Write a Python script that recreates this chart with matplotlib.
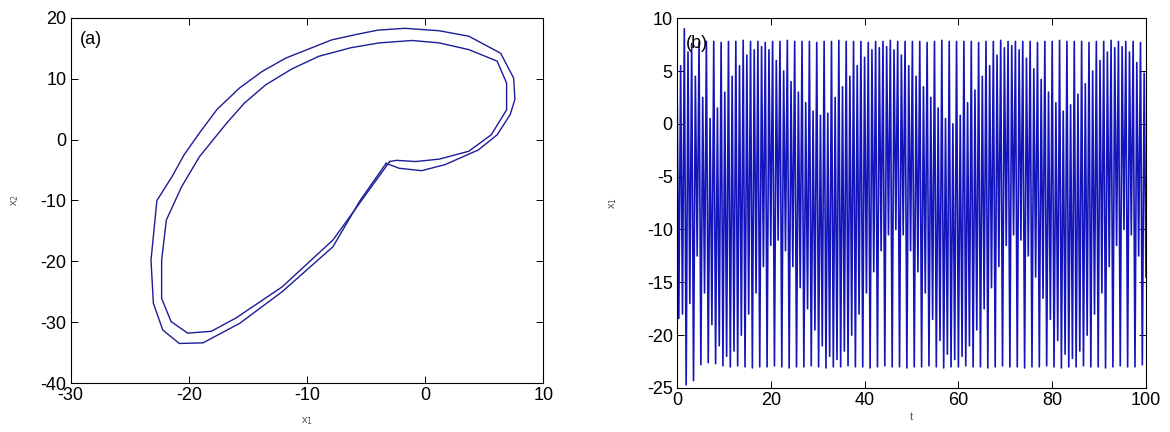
import numpy as np
import matplotlib
matplotlib.use("Agg")
from matplotlib import pyplot as plt

plt.rcParams['font.family'] = ['Liberation Sans', 'DejaVu Sans']
plt.rcParams['axes.unicode_minus'] = False

# (a) phase portrait: the two loops of the orbit, vertices
outer_x1 = [-3.3, -2.2, -0.3, 1.7, 4.5, 6.1, 7.2, 7.6, 7.5, 6.4, 3.7, 1.2, -1.7, -4.0,
            -5.8, -7.9, -11.8, -13.8, -15.7, -17.6, -19.1, -20.4, -21.4, -22.7, -23.2,
            -23.0, -22.2, -20.8, -18.8, -15.7, -12.1, -7.8, -5.5, -3.3]
outer_x2 = [-3.9, -4.7, -5.1, -4.1, -1.7, 0.8, 4.1, 6.6, 10.1, 14.2, 17.0, 17.9, 18.3, 18.0,
            17.3, 16.4, 13.4, 11.2, 8.5, 5.0, 1.1, -2.5, -6.0, -10.0, -19.8,
            -26.9, -31.3, -33.5, -33.4, -30.2, -25.0, -17.6, -10.0, -3.9]
inner_x1 = [-3.0, -2.4, -0.8, 1.2, 3.7, 5.6, 6.9, 6.9, 6.1, 3.7, 1.2, -1.1, -3.9, -6.3,
            -9.0, -11.3, -13.5, -15.3, -16.8, -19.1, -20.6, -21.9, -22.3, -22.3, -21.5,
            -20.1, -18.1, -16.0, -12.1, -7.8, -3.0]
inner_x2 = [-3.6, -3.4, -3.6, -3.2, -1.9, 0.8, 4.9, 9.3, 12.9, 14.8, 15.9, 16.3, 15.9, 15.1,
            13.7, 11.6, 9.0, 6.0, 2.7, -2.8, -7.7, -13.2, -19.8, -26.1, -29.9,
            -31.8, -31.5, -29.3, -24.2, -16.5, -3.6]

# (b) time series, per oscillation: full top, full bottom, partial top, partial bottom
hi_full = [5.7, 9.0, 7.6, 7.7, 7.8, 7.8, 7.7, 7.8, 7.8, 7.9, 7.8, 7.8, 7.7, 7.8, 7.8, 7.9,
           7.8, 7.8, 7.8, 7.7, 7.8, 7.8, 7.9, 7.8, 7.8, 7.8, 7.7, 7.8, 7.8, 7.9, 7.8, 7.8,
           7.8, 7.8, 7.7, 7.8, 7.9, 7.8, 7.8, 7.8, 7.8, 7.7, 7.8, 7.8, 7.9, 7.8, 7.8, 7.8,
           7.8, 7.7, 7.8, 7.8, 7.9, 7.8, 7.8, 7.8, 7.7, 7.8, 7.8, 7.9, 7.8, 7.8, 7.8, 7.7]
lo_full = [-18.4, -24.7, -24.3, -22.8, -22.6, -22.7, -22.9, -23.0, -22.9, -23.0, -23.1, -23.0,
           -23.0, -22.9, -23.0, -23.1, -23.0, -23.0, -22.9, -23.0, -23.1, -23.0, -23.0, -22.9,
           -23.0, -23.0, -23.1, -23.0, -22.9, -23.0, -23.0, -23.1, -23.0, -23.0, -22.9, -23.0,
           -23.1, -23.0, -23.0, -22.9, -23.0, -23.0, -23.1, -23.0, -22.9, -23.0, -23.0, -23.1,
           -23.0, -23.0, -22.9, -23.0, -23.1, -23.0, -23.0, -22.9, -23.0, -23.0, -23.1, -23.0,
           -22.9, -23.0, -23.0, -22.8]
hi_part = [5.5, 6.8, 4.5, 2.5, 0.5, 1.5, 3.0, 4.5, 5.5, 6.5, 7.0, 7.3, 7.0, 6.0, 5.0, 4.0,
           3.0, 2.0, 1.2, 0.8, 1.0, 2.5, 3.5, 4.5, 5.5, 6.3, 7.0, 7.2, 7.3, 7.0, 6.5, 5.5,
           4.5, 3.5, 2.5, 1.5, 0.5, 0.0, 0.8, 2.0, 3.2, 4.5, 5.5, 6.5, 7.2, 7.4, 7.0, 6.2,
           5.2, 4.2, 3.0, 2.0, 1.2, 1.8, 2.8, 3.8, 5.0, 6.0, 6.8, 7.2, 7.3, 6.8, 5.8, 4.8]
lo_part = [-18.0, -17.0, -12.5, -16.0, -19.0, -21.0, -22.0, -21.5, -20.0, -18.0, -16.0, -13.5,
           -11.5, -11.0, -12.0, -13.5, -15.5, -17.5, -19.5, -21.0, -22.0, -22.3, -21.5, -20.0,
           -18.0, -16.0, -14.0, -12.0, -10.5, -10.0, -10.5, -12.0, -14.0, -16.0, -18.5, -20.5,
           -21.8, -22.3, -22.0, -21.0, -19.5, -17.5, -15.5, -13.5, -11.5, -10.5, -11.0, -12.5,
           -14.5, -16.5, -18.5, -20.5, -21.8, -22.2, -21.5, -20.0, -18.0, -16.0, -13.5, -11.5,
           -10.0, -10.5, -12.5, -14.5]

x1_series = np.column_stack([hi_full, lo_full, hi_part, lo_part]).ravel()
t = np.linspace(0, 100, len(x1_series))

fig = plt.figure(figsize=(11.7, 4.32), dpi=100)
ax1 = fig.add_axes([0.0604, 0.1134, 0.4039, 0.845])
ax2 = fig.add_axes([0.5786, 0.1019, 0.4009, 0.856])

ax1.plot(outer_x1, outer_x2, color='#1c1c96', lw=1.0)
ax1.plot(inner_x1, inner_x2, color='#1c1c96', lw=1.0)
ax1.set_xlim(-30, 10)
ax1.set_ylim(-40, 20)
ax1.set_xticks([-30, -20, -10, 0, 10])
ax1.set_yticks([-40, -30, -20, -10, 0, 10, 20])
ax1.text(0.02, 0.93, '(a)', transform=ax1.transAxes, fontsize=13)
ax1.set_xlabel(r'x$_1$', fontsize=8, color='#555555', labelpad=8)
ax1.set_ylabel(r'x$_2$', fontsize=8, color='#555555', labelpad=14)

ax2.plot(t, x1_series, color='#1414bc', lw=1.2)
ax2.set_xlim(0, 100)
ax2.set_ylim(-25, 10)
ax2.set_xticks([0, 20, 40, 60, 80, 100])
ax2.set_yticks([-25, -20, -15, -10, -5, 0, 5, 10])
ax2.text(0.02, 0.92, '(b)', transform=ax2.transAxes, fontsize=13)
ax2.set_xlabel('t', fontsize=8, color='#555555', labelpad=2)
ax2.set_ylabel(r'x$_1$', fontsize=8, color='#555555', labelpad=20)

for ax in (ax1, ax2):
    ax.tick_params(direction='in', top=True, right=True, length=5, width=0.7,
                   labelsize=13, pad=3)
    for s in ax.spines.values():
        s.set_linewidth(0.8)

fig.savefig('out.png', dpi=100)
